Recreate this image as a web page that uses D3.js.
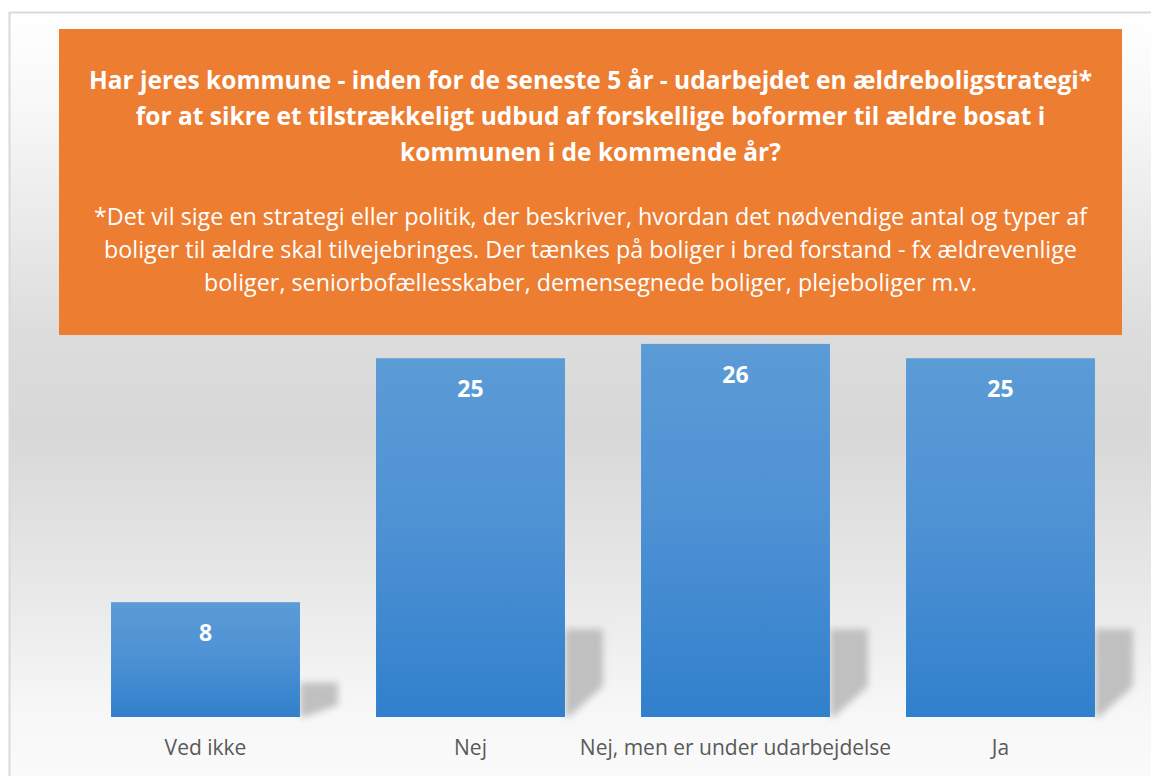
<!DOCTYPE html>
<html>
<head>
<meta charset="utf-8">
<script src="https://cdn.jsdelivr.net/npm/d3@7"></script>
<style>
  html, body { margin: 0; padding: 0; background: #ffffff; }
  svg { display: block; }
</style>
</head>
<body>
<div id="chart"></div>
<script>
// Data
const categories = ["Ved ikke", "Nej", "Nej, men er under udarbejdelse", "Ja"];
const values = [8, 25, 26, 25];
const titleLines = [
    "Har jeres kommune - inden for de seneste 5 år - udarbejdet en ældreboligstrategi*",
    "for at sikre et tilstrækkeligt udbud af forskellige boformer til ældre bosat i",
    "kommunen i de kommende år?"
];
const noteLines = [
    "*Det vil sige en strategi eller politik, der beskriver, hvordan det nødvendige antal og typer af",
    "boliger til ældre skal tilvejebringes. Der tænkes på boliger i bred forstand - fx ældrevenlige",
    "boliger, seniorbofællesskaber, demensegnede boliger, plejeboliger m.v."
];

const W = 1151, H = 776;
const fontFam = "'Open Sans', 'Noto Sans', sans-serif";

const svg = d3.select("#chart")
    .append("svg")
    .attr("width", W)
    .attr("height", H);

const defs = svg.append("defs");

// fondo degradado
const bg = defs.append("linearGradient")
    .attr("id", "bgGrad")
    .attr("x1", 0).attr("y1", 0).attr("x2", 0).attr("y2", 1);
[[0, "#ffffff"], [0.12, "#f8f8f8"], [0.42, "#dcdcdc"], [0.54, "#d8d8d8"],
 [0.74, "#e8e8e8"], [0.9, "#f7f7f7"], [1, "#fbfbfb"]].forEach(s => {
    bg.append("stop").attr("offset", s[0]).attr("stop-color", s[1]);
});

const barGrad = defs.append("linearGradient")
    .attr("id", "barGrad")
    .attr("x1", 0).attr("y1", 0).attr("x2", 0).attr("y2", 1);
barGrad.append("stop").attr("offset", 0).attr("stop-color", "#5b9bd6");
barGrad.append("stop").attr("offset", 0.45).attr("stop-color", "#4f92d4");
barGrad.append("stop").attr("offset", 1).attr("stop-color", "#3180cc");

defs.append("filter")
    .attr("id", "blur")
    .attr("x", "-50%").attr("y", "-50%").attr("width", "200%").attr("height", "200%")
    .append("feGaussianBlur")
    .attr("stdDeviation", 3.5);

svg.append("rect")
    .attr("x", 9.5).attr("y", 12.5)
    .attr("width", W).attr("height", H)
    .attr("fill", "url(#bgGrad)")
    .attr("stroke", "#d9d9d9")
    .attr("stroke-width", 2);

// Escalas
const x = d3.scaleBand()
    .domain(categories)
    .range([73, 1133])
    .paddingInner(0.287)
    .paddingOuter(0.1435);

const y = d3.scaleLinear()
    .domain([0, 30])
    .range([717, 286.5]);

const bars = categories.map((c, i) => ({ cat: c, value: values[i] }));

// Sombras
svg.append("g")
    .selectAll("path")
    .data(bars)
    .join("path")
    .attr("d", d => {
        const r = x(d.cat) + x.bandwidth();
        const h = y(0) - y(d.value);
        const sh = Math.min(h * 0.3, 88);
        const top = y(0) - sh;
        return `M${r},${top} L${r + 38},${top} L${r + 38},${top + sh * 0.65} L${r + 4},${y(0)} L${r},${y(0)} Z`;
    })
    .attr("fill", "#c0c0c0")
    .attr("filter", "url(#blur)");

// Barras
svg.append("g")
    .selectAll("rect")
    .data(bars)
    .join("rect")
    .attr("x", d => x(d.cat))
    .attr("y", d => y(d.value))
    .attr("width", x.bandwidth())
    .attr("height", d => y(0) - y(d.value))
    .attr("fill", "url(#barGrad)");

// Etiquetas de valor
svg.append("g")
    .selectAll("text")
    .data(bars)
    .join("text")
    .attr("x", d => x(d.cat) + x.bandwidth() / 2)
    .attr("y", d => y(d.value) + 39)
    .attr("text-anchor", "middle")
    .attr("font-family", fontFam)
    .attr("font-weight", "bold")
    .attr("font-size", "23px")
    .attr("fill", "#ffffff")
    .text(d => d.value);

// Eje X (solo etiquetas)
const xAxis = svg.append("g")
    .attr("transform", `translate(0,${y(0)})`)
    .call(d3.axisBottom(x).tickSize(0).tickPadding(23));
xAxis.select(".domain").remove();
xAxis.selectAll("text")
    .attr("font-family", fontFam)
    .attr("font-size", "21px")
    .attr("fill", "#595959");

// Caja naranja con el título
svg.append("rect")
    .attr("x", 59).attr("y", 29)
    .attr("width", 1063).attr("height", 306)
    .attr("fill", "#ed7d31");

svg.append("g")
    .selectAll("text")
    .data(titleLines)
    .join("text")
    .attr("x", 590.5)
    .attr("y", (d, i) => 89 + i * 36)
    .attr("text-anchor", "middle")
    .attr("font-family", fontFam)
    .attr("font-weight", "bold")
    .attr("font-size", "24.5px")
    .attr("fill", "#ffffff")
    .text(d => d);

svg.append("g")
    .selectAll("text")
    .data(noteLines)
    .join("text")
    .attr("x", 590.5)
    .attr("y", (d, i) => 225 + i * 33)
    .attr("text-anchor", "middle")
    .attr("font-family", fontFam)
    .attr("font-size", "23.3px")
    .attr("fill", "#ffffff")
    .text(d => d);
</script>
</body>
</html>
